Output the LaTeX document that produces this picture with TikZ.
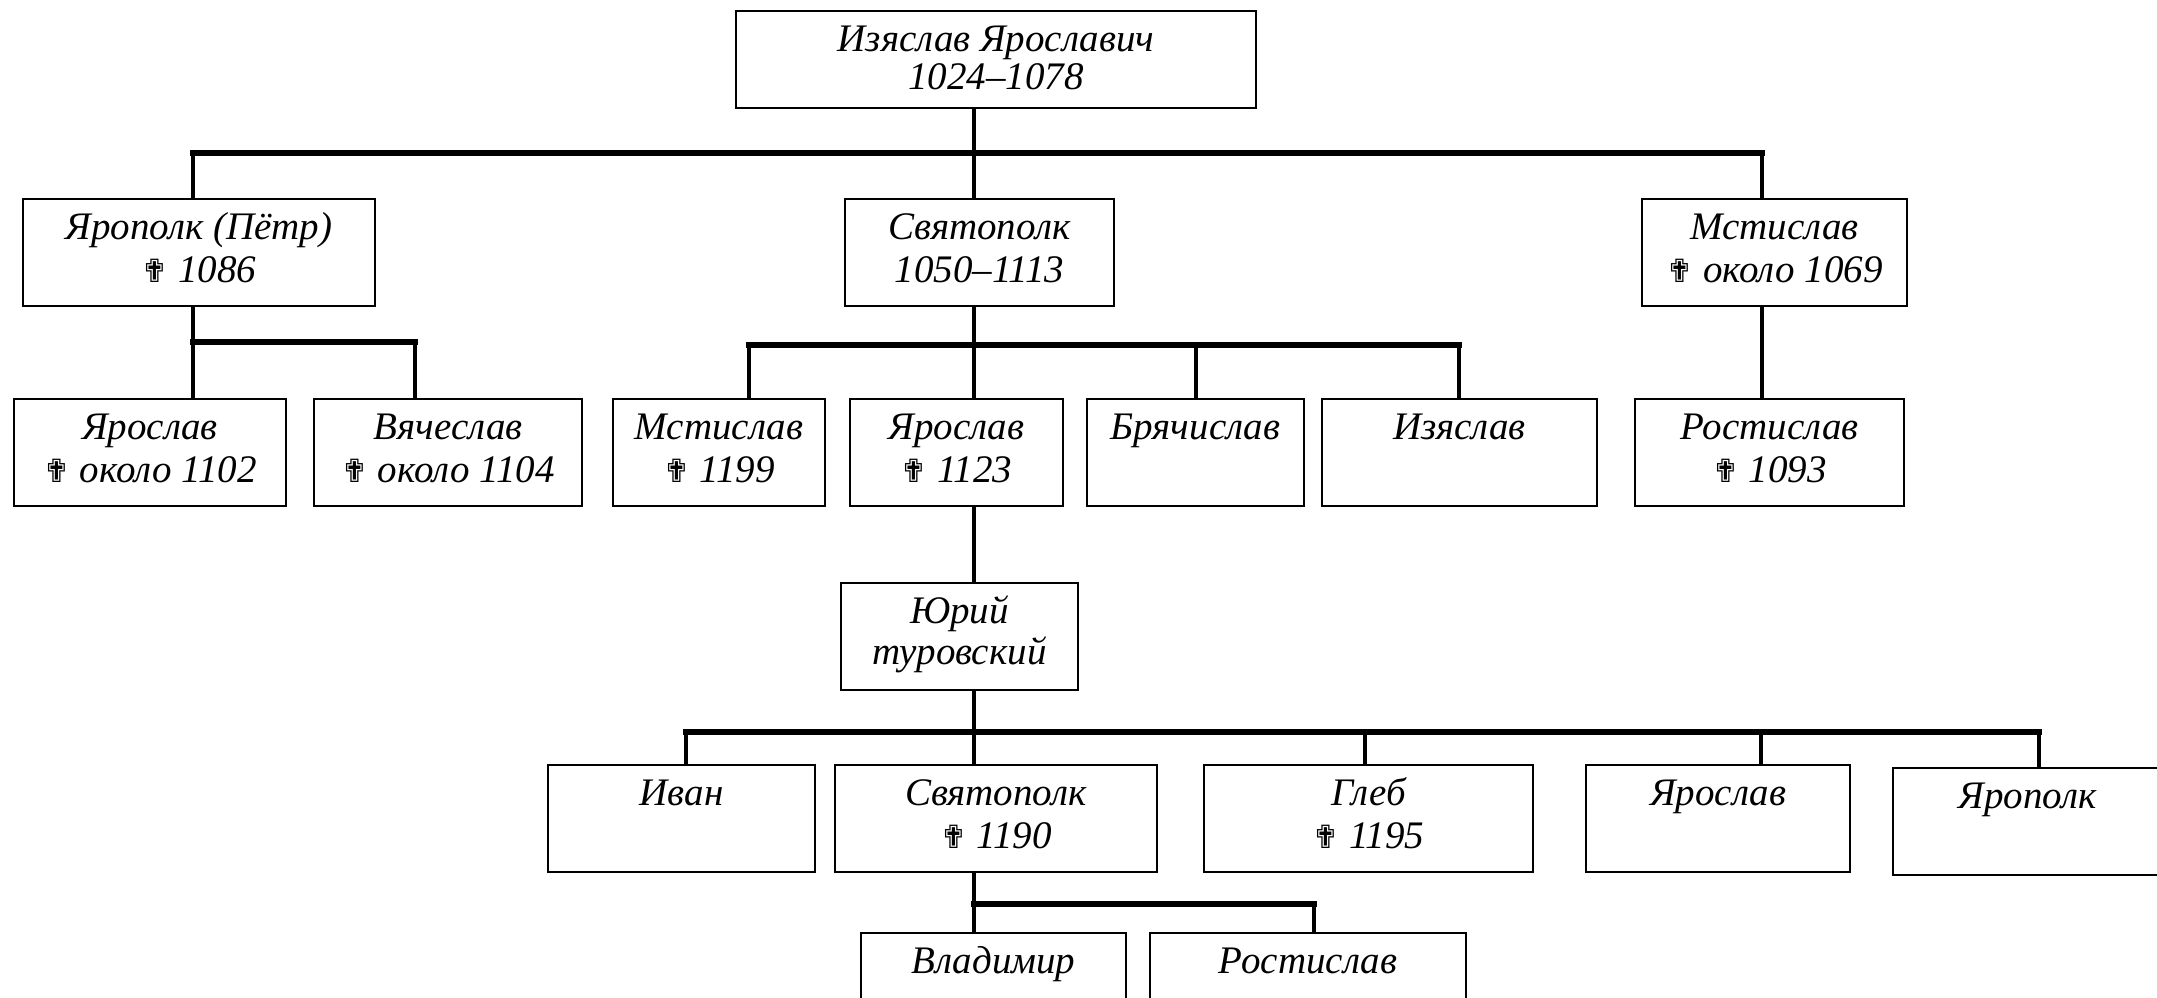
\documentclass[tikz,border=0pt]{standalone}
\usepackage{fontspec}
\setmainfont{Liberation Serif}
\newfontfamily\crossfont{DejaVu Sans}
\newcommand{\dd}{{\crossfont\upshape\fontsize{32}{32}\selectfont ✟}}
\tikzset{
  box/.style={draw, line width=2pt, rectangle, inner sep=0pt, outer sep=0pt},
  txt/.style={inner sep=0pt, outer sep=0pt, align=center, font=\itshape\fontsize{39}{43}\selectfont},
  conn/.style={line width=4pt},
  bus/.style={line width=5.5pt, line cap=rect},
}
\newcommand{\kin}[6]{%
  \node[box, minimum width={#3-#2}, minimum height={#5-#4}] (#1) at ({(#2+#3)/2},{(#4+#5)/2}) {};
  \node[txt, anchor=north] (#1t) at (#1.north) {\rule{0pt}{40pt}#6};
}
\begin{document}
\begin{tikzpicture}[x=1pt, y=-1pt]
\fill[white] (0,0) rectangle (2157,998);
\useasboundingbox (0,0) rectangle (2157,998);

\kin{A}{736}{1256}{11}{108}{Изяслав Ярославич\\[-5pt]1024–1078}
\kin{B}{23}{375}{199}{306}{Ярополк (Пётр)\\\dd\ 1086}
\kin{C}{845}{1114}{199}{306}{Святополк\\1050–1113}
\kin{D}{1642}{1907}{199}{306}{Мстислав\\\dd\ около 1069}
\kin{E}{14}{286}{399}{506}{Ярослав\\\dd\ около 1102}
\kin{F}{314}{582}{399}{506}{Вячеслав\\\dd\ около 1104}
\kin{G}{613}{825}{399}{506}{Мстислав\\\dd\ 1199}
\kin{H}{850}{1063}{399}{506}{Ярослав\\\dd\ 1123}
\kin{I}{1087}{1304}{399}{506}{Брячислав}
\kin{J}{1322}{1597}{399}{506}{Изяслав}
\kin{K}{1635}{1904}{399}{506}{Ростислав\\\dd\ 1093}
\kin{L}{841}{1078}{583}{690}{Юрий\\[-2pt]туровский}
\kin{M}{548}{815}{765}{872}{Иван}
\kin{N}{835}{1157}{765}{872}{Святополк\\\dd\ 1190}
\kin{O}{1204}{1533}{765}{872}{Глеб\\\dd\ 1195}
\kin{P}{1586}{1850}{765}{872}{Ярослав}
\kin{Q}{1893}{2162}{768}{875}{Ярополк}
\kin{R}{861}{1126}{933}{1040}{Владимир}
\kin{S}{1150}{1466}{933}{1040}{Ростислав}

% junctions
\coordinate (jB) at (193,153);
\coordinate (jC) at (974,153);
\coordinate (jD) at (1762,153);
\coordinate (jE) at (193,342);
\coordinate (jF) at (415,342);
\coordinate (jG) at (749,345);
\coordinate (jH) at (974,345);
\coordinate (jI) at (1196,345);
\coordinate (jJ) at (1459,345);
\coordinate (jM) at (686,732);
\coordinate (jN) at (974,732);
\coordinate (jO) at (1365,732);
\coordinate (jP) at (1761,732);
\coordinate (jQ) at (2039,732);
\coordinate (jR) at (974,904);
\coordinate (jS) at (1314,904);

% generation 1
\draw[conn] (A.south -| jC) -- (jC);
\draw[conn] (jB) -- (B.north -| jB);
\draw[conn] (jC) -- (C.north -| jC);
\draw[conn] (jD) -- (D.north -| jD);
\draw[bus] (jB) -- (jD);

% children of B
\draw[conn] (B.south -| jE) -- (jE);
\draw[conn] (jE) -- (E.north -| jE);
\draw[conn] (jF) -- (F.north -| jF);
\draw[bus] (jE) -- (jF);

% children of C
\draw[conn] (C.south -| jH) -- (jH);
\draw[conn] (jG) -- (G.north -| jG);
\draw[conn] (jH) -- (H.north -| jH);
\draw[conn] (jI) -- (I.north -| jI);
\draw[conn] (jJ) -- (J.north -| jJ);
\draw[bus] (jG) -- (jJ);

% D -> K
\draw[conn] (D.south -| jD) -- (K.north -| jD);

% H -> L
\draw[conn] (H.south -| jH) -- (L.north -| jH);

% children of L
\draw[conn] (L.south -| jN) -- (jN);
\draw[conn] (jM) -- (M.north -| jM);
\draw[conn] (jN) -- (N.north -| jN);
\draw[conn] (jO) -- (O.north -| jO);
\draw[conn] (jP) -- (P.north -| jP);
\draw[conn] (jQ) -- (Q.north -| jQ);
\draw[bus] (jM) -- (jQ);

% children of N
\draw[conn] (N.south -| jR) -- (jR);
\draw[conn] (jR) -- (R.north -| jR);
\draw[conn] (jS) -- (S.north -| jS);
\draw[bus] (jR) -- (jS);
\end{tikzpicture}
\end{document}
